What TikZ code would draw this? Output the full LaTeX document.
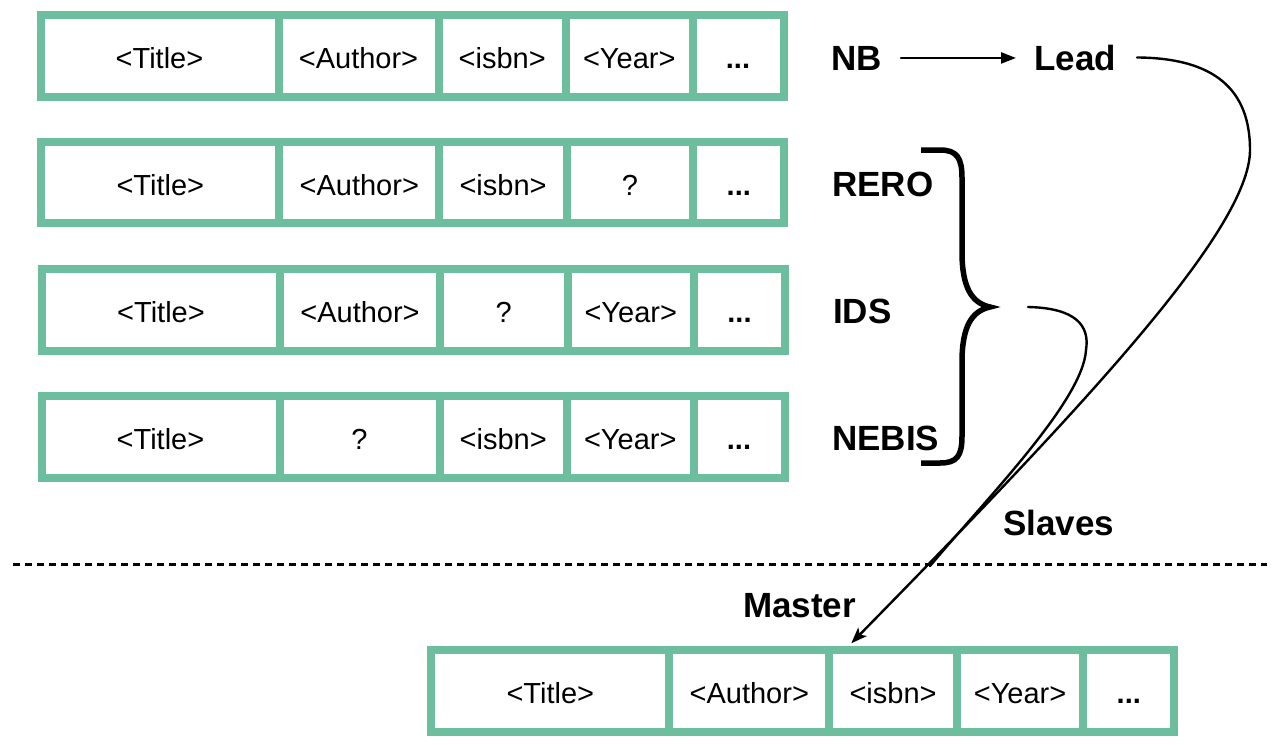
\documentclass[tikz,border=0pt]{standalone}
\usepackage{fontspec}
\setmainfont{Liberation Sans}
\usetikzlibrary{arrows.meta}
\definecolor{cellgreen}{RGB}{109,189,159}
\newcommand\myCellFont{\fontsize{29}{34}\selectfont}
\newcommand\myLblFont{\fontsize{35}{42}\selectfont\bfseries}
\newcommand\myRow[8]{%
  \begin{scope}[shift={(#2,#3)}]
    \node[cell, minimum width=238pt]   (#1-1) at (119,0)    {#4};
    \node[cell, minimum width=160pt]   (#1-2) at (318,0)    {#5};
    \node[cell, minimum width=127.5pt] (#1-3) at (461.75,0) {#6};
    \node[cell, minimum width=126.5pt] (#1-4) at (588.75,0) {#7};
    \node[cell, minimum width=91pt]    (#1-5) at (697.5,0)  {#8};
  \end{scope}}
\tikzset{
  cell/.style={draw=cellgreen, line width=8pt, fill=white, minimum height=81.5pt,
    inner sep=0pt, text height=25pt, text depth=0pt, font=\myCellFont},
  lbl/.style={anchor=base west, inner sep=0pt, font=\myLblFont},
  link/.style={line width=2.4pt, line cap=round},
}
\begin{document}
\begin{tikzpicture}[x=1pt, y=-1pt]
  \useasboundingbox (0,0) rectangle (1276,744);

  % record rows
  \myRow{r1}{40.5}{55.75}{<Title>}{<Author>}{<isbn>}{<Year>}{\textbf{...}}
  \myRow{r2}{41.3}{182.65}{<Title>}{<Author>}{<isbn>}{?}{\textbf{...}}
  \myRow{r3}{42}{310}{<Title>}{<Author>}{?}{<Year>}{\textbf{...}}
  \myRow{r4}{41.5}{437}{<Title>}{?}{<isbn>}{<Year>}{\textbf{...}}
  \myRow{m}{431.3}{691}{<Title>}{<Author>}{<isbn>}{<Year>}{\textbf{...}}

  % labels
  \node[lbl] (nb)     at (831,70)    {NB};
  \node[lbl] (lead)   at (1034,70)   {Lead};
  \node[lbl] (rero)   at (832,196.5) {RERO};
  \node[lbl] (ids)    at (833,323.5) {IDS};
  \node[lbl] (nebis)  at (832,450.5) {NEBIS};
  \node[lbl] (slaves) at (1003,535)  {Slaves};
  \node[lbl] (master) at (743,617)   {Master};

  % brace
  \coordinate (bt) at (990,307);
  \draw[line width=5.5pt]
    (921,150) -- (940,150) .. controls (957,150) and (962,158) .. (962,178)
    -- (962,252) .. controls (962,288) and (972,303) .. (bt)
    .. controls (972,311) and (962,326) .. (962,362)
    -- (962,436) .. controls (962,456) and (957,463) .. (940,463) -- (921,463);

  % NB -> Lead
  \draw[link, -{Triangle[length=15pt, width=11pt]}, shorten <=19pt, shorten >=18pt]
    (nb.east) -- (nb.east -| lead.west);

  % Lead -> Master
  \coordinate (tip) at ([xshift=26pt, yshift=3pt]m-3.north west);
  \draw[link, -{Stealth[length=16pt, width=12pt, inset=4pt]}]
    ([xshift=21pt]lead.east) .. controls (1215,58) and (1250,90) .. (1250,150)
    .. controls (1250,230) and (1080,410) .. (tip);

  % IDS group curve merging into the line
  \draw[link]
    ([xshift=38pt]bt) .. controls (1075,308) and (1090,325) .. (1086,350)
    .. controls (1083,400) and (990,495) .. (930,566);

  % separator
  \draw[line width=3pt, dash pattern=on 7pt off 5pt] (13,564) -- (1267,564);
\end{tikzpicture}
\end{document}
